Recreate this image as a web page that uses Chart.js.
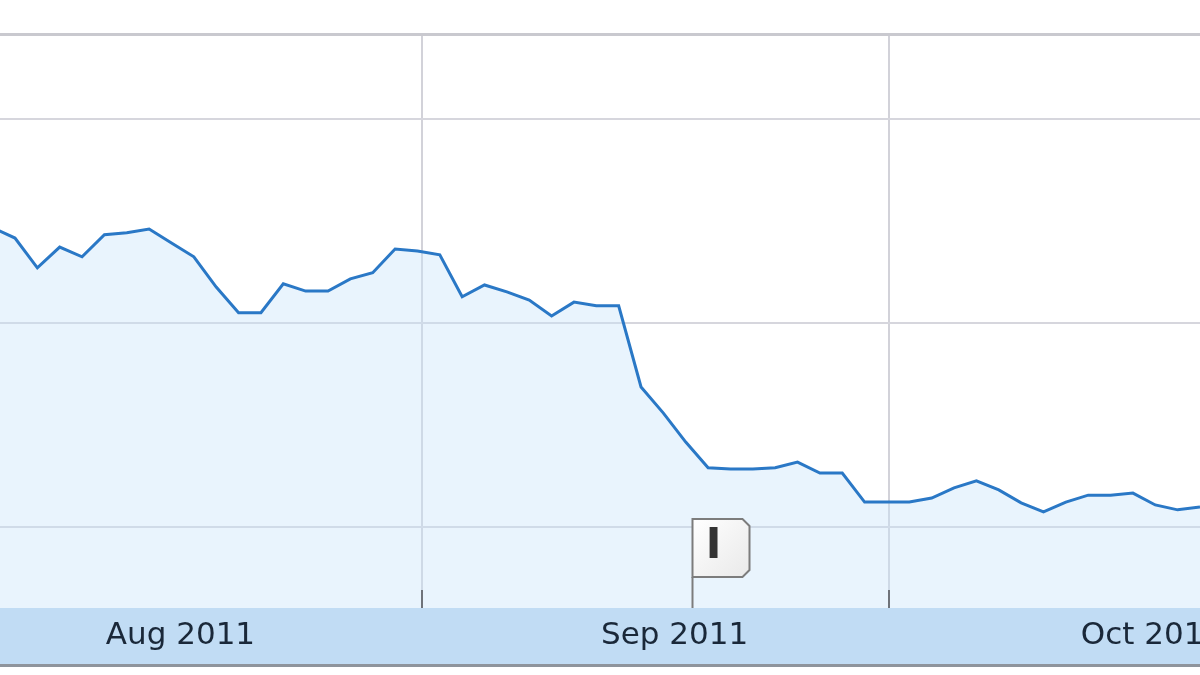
<!DOCTYPE html>
<html>
<head>
<meta charset="utf-8">
<script src="https://cdn.jsdelivr.net/npm/chart.js@4.4.1/dist/chart.umd.min.js"></script>
<style>
  html, body { margin: 0; padding: 0; background: #fff; }
  #wrap { width: 1200px; height: 675px; position: relative; }
</style>
</head>
<body>
<div id="wrap"><canvas id="chartPrice"></canvas></div>
<script>
// one value per trading session, late Jul 2011 .. early Oct 2011
const closes = [
    27.33, 27.08, 26.35, 26.86, 26.62, 27.16, 27.21, 27.30, 26.96, 26.62,
    25.88, 25.25, 25.25, 25.96, 25.78, 25.78, 26.08, 26.23, 26.81, 26.76,
    26.67, 25.64, 25.93, 25.76, 25.56, 25.17, 25.51, 25.42, 25.42, 23.43,
    22.79, 22.08, 21.45, 21.42, 21.42, 21.45, 21.59, 21.32, 21.32, 20.61,
    20.61, 20.61, 20.71, 20.96, 21.13, 20.91, 20.59, 20.37, 20.61, 20.78,
    20.78, 20.83, 20.54, 20.42, 20.49
];
const monthEdges = [19.2, 40.1];            // session index where Sep / Oct start
const monthLabels = ["Aug 2011", "Sep 2011", "Oct 2011"];
const monthLabelAt = [8.4, 30.5, 51.85];
const priceTicks = [20, 25, 30];
const newsFlags = [{ at: 31.28, letter: "I" }];

const points = closes.map((v, i) => ({ x: i, y: v }));

const financeBits = {
    id: "financeBits",
    beforeDraw(chart) {
        const ctx = chart.ctx;
        const a = chart.chartArea;
        ctx.save();
        ctx.fillStyle = "#c1dcf4";
        ctx.fillRect(0, a.bottom, chart.width, 56);
        ctx.fillStyle = "#8e949c";
        ctx.fillRect(0, a.bottom + 56, chart.width, 3);
        ctx.restore();
    },
    afterDatasetsDraw(chart) {
        const ctx = chart.ctx;
        const a = chart.chartArea;
        const xs = chart.scales.x;
        ctx.save();
        // small tick marks at the month edges
        ctx.strokeStyle = "#6f737a";
        ctx.lineWidth = 2;
        monthEdges.forEach(m => {
            const px = Math.round(xs.getPixelForValue(m));
            ctx.beginPath();
            ctx.moveTo(px, a.bottom - 18);
            ctx.lineTo(px, a.bottom);
            ctx.stroke();
        });
        // news flags
        newsFlags.forEach(f => {
            const x = Math.round(xs.getPixelForValue(f.at)) + 0.5;
            const w = 57, h = 58, pole = 31, c = 7;
            const top = a.bottom - pole - h;
            const g = ctx.createLinearGradient(x, top, x + w, top + h);
            g.addColorStop(0, "#ffffff");
            g.addColorStop(1, "#e9e9e9");
            ctx.beginPath();
            ctx.moveTo(x, top);
            ctx.lineTo(x + w - c, top);
            ctx.lineTo(x + w, top + c);
            ctx.lineTo(x + w, top + h - c);
            ctx.lineTo(x + w - c, top + h);
            ctx.lineTo(x, top + h);
            ctx.closePath();
            ctx.fillStyle = g;
            ctx.fill();
            ctx.strokeStyle = "#7c7c7c";
            ctx.lineWidth = 2;
            ctx.stroke();
            ctx.beginPath();
            ctx.moveTo(x, top + h);
            ctx.lineTo(x, a.bottom);
            ctx.stroke();
            ctx.fillStyle = "#333333";
            ctx.font = "bold 42px 'DejaVu Sans'";
            ctx.textAlign = "center";
            ctx.textBaseline = "middle";
            ctx.fillText(f.letter, x + 21, top + h / 2 - 1);
        });
        ctx.restore();
    }
};

new Chart(document.getElementById("chartPrice"), {
    type: "line",
    data: {
        datasets: [{
            data: points,
            borderColor: "#2a78c6",
            borderWidth: 3,
            backgroundColor: "rgba(200, 228, 250, 0.4)",
            fill: "start",
            pointRadius: 0,
            tension: 0
        }]
    },
    options: {
        responsive: true,
        maintainAspectRatio: false,
        animation: false,
        layout: { padding: { top: 34, left: 0, right: 0, bottom: 0 } },
        plugins: { legend: { display: false }, tooltip: { enabled: false } },
        scales: {
            x: {
                type: "linear",
                min: 0.33,
                max: 54,
                afterBuildTicks: s => { s.ticks = monthLabelAt.map(v => ({ value: v })); },
                afterFit: s => { s.paddingLeft = 0; s.paddingRight = 0; s.height = 67; },
                grid: { display: false },
                border: { display: false },
                ticks: {
                    autoSkip: false,
                    maxRotation: 0,
                    padding: 1,
                    color: "#1a2839",
                    font: { family: "'DejaVu Sans'", size: 31 },
                    callback: (v, i) => monthLabels[i]
                }
            },
            x2: {
                type: "linear",
                position: "top",
                min: 0.33,
                max: 54,
                afterBuildTicks: s => { s.ticks = monthEdges.map(v => ({ value: v })); },
                afterFit: s => { s.height = 0; s.paddingLeft = 0; s.paddingRight = 0; },
                grid: { color: "#d2d2d9", lineWidth: 2, drawTicks: false },
                border: { display: true, color: "#c9c9cf", width: 3 },
                ticks: { display: false }
            },
            y: {
                min: 18.015,
                max: 32.08,
                afterBuildTicks: s => { s.ticks = priceTicks.map(v => ({ value: v })); },
                afterFit: s => { s.width = 0; },
                grid: { color: "#d6d6dd", lineWidth: 2, drawTicks: false },
                border: { display: false },
                ticks: { display: false }
            }
        }
    },
    plugins: [financeBits]
});
</script>
</body>
</html>
